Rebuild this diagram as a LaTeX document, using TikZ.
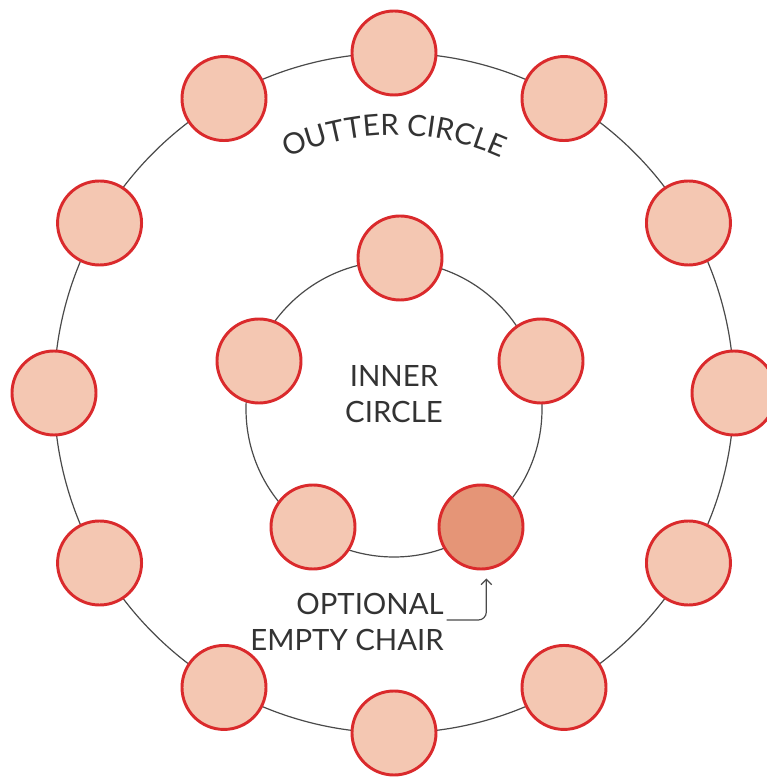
\documentclass[tikz,border=0pt]{standalone}
\usepackage{fontspec}
\setmainfont{Lato}
\usetikzlibrary{arrows.meta,positioning,decorations.text}
\definecolor{chairfill}{HTML}{F4C7B2}
\definecolor{chairred}{HTML}{DA2A2C}
\definecolor{emptyfill}{HTML}{E59577}
\definecolor{ringgray}{HTML}{4A4A4A}
\definecolor{labelgray}{HTML}{333333}
\newcommand{\lblfont}{\fontsize{22}{27}\selectfont}

\begin{document}
\begin{tikzpicture}[x=0.75pt,y=0.75pt,
 chair/.style={circle,draw=chairred,line width=2.2pt,fill=chairfill,minimum size=63pt,inner sep=0pt},
 ring/.style={draw=ringgray,line width=0.9pt},
 lbl/.style={text=labelgray,font=\lblfont,align=center,inner sep=0pt},
 arr/.style={-{Straight Barb[length=4pt,width=8pt]},draw=ringgray,line width=0.9pt,rounded corners=6pt}]
\useasboundingbox (0,0) rectangle (767,778);
\draw[ring] (394,385) circle (340);
\draw[ring] (394,369) circle (148);
\path[decorate,decoration={text along path,text align=center,
  text={|\lblfont\color{labelgray}|OUTTER CIRCLE}}]
  (394,385) ++(122:258) arc[start angle=122,end angle=58,radius=258];
\foreach \a [count=\i] in {90,60,...,-240}
  \path (394,385) ++(\a:340) node[chair] (outer\i) {};
\node[chair] (innertop) at (400,520) {};
\node[chair] (innerright) at (541,417) {};
\node[chair,fill=emptyfill] (emptychair) at (481,251) {};
\node[chair] (innerbottom) at (313,251) {};
\node[chair] (innerleft) at (259,417) {};
\node[lbl] (innerlabel) at (394,384) {INNER\\CIRCLE};
\node[lbl,align=right,anchor=east] (emptylabel) at (444,156) {OPTIONAL\\EMPTY CHAIR};
\draw[arr] ([xshift=2]emptylabel.east) ++(0,2) -| ([xshift=4,yshift=-6]emptychair.south);
\end{tikzpicture}
\end{document}
